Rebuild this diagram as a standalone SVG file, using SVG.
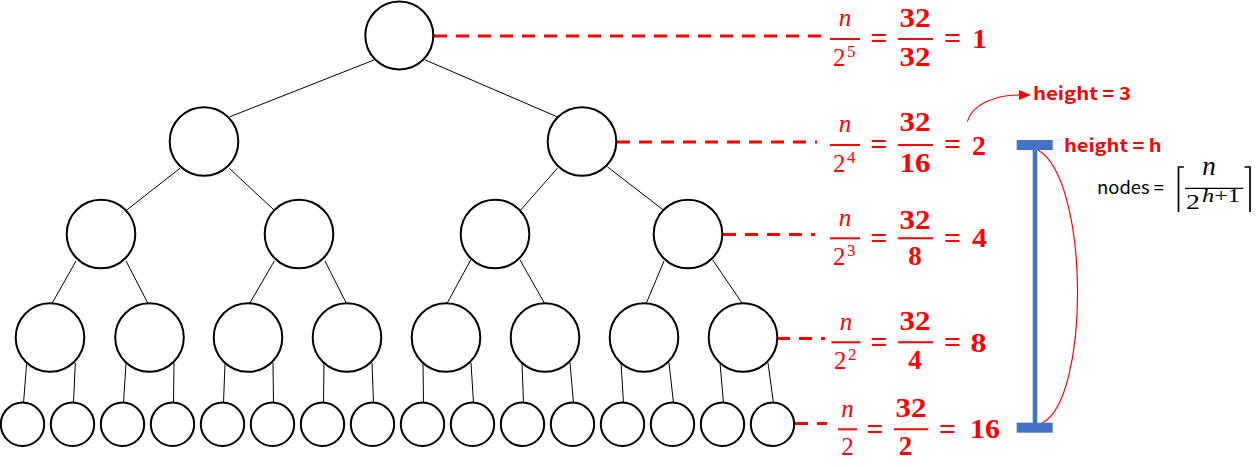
<svg xmlns="http://www.w3.org/2000/svg" width="1260" height="467" viewBox="0 0 1260 467">
<defs>
<style>
.nd{fill:#fff;stroke:#000;stroke-width:2}
.ed{stroke:#000;stroke-width:1;fill:none}
.dl{stroke:#f00;stroke-width:3;stroke-dasharray:13 9;fill:none}
.fb{stroke:#f00;stroke-width:2}
.sf{font-family:"Liberation Serif","DejaVu Serif",serif}
.ni{font-style:italic;font-size:25px;fill:#f00;text-anchor:middle}
.dn{font-size:25px;fill:#f00}
.sp{font-size:17px;fill:#f00}
.bd{font-weight:bold;font-size:27px;fill:#f00;text-anchor:middle}
.eq{font-weight:bold;font-size:30px;fill:#f00;text-anchor:middle}
.rs{font-weight:bold;font-size:27px;fill:#f00}
.hl{font-family:"Noto Sans CJK KR","Noto Sans",sans-serif;font-weight:bold;font-size:18px;fill:#f00}
.bl{fill:#4472C4}
.mt{fill:#000}
</style>
<marker id="ah" markerUnits="userSpaceOnUse" markerWidth="13" markerHeight="10" refX="1" refY="5" orient="auto">
<path d="M0,0 L12,5 L0,10 Z" fill="#f00"/>
</marker>
</defs>

<g id="connectors">
<line class="ed" x1="374" y1="60" x2="230" y2="116.7"/>
<line class="ed" x1="425.3" y1="60" x2="558.3" y2="117.3"/>
<line class="ed" x1="180" y1="168.3" x2="126.7" y2="210"/>
<line class="ed" x1="229.3" y1="168.3" x2="274" y2="210"/>
<line class="ed" x1="557.3" y1="168.3" x2="520.7" y2="210"/>
<line class="ed" x1="607.3" y1="166.7" x2="663.3" y2="210"/>
<line class="ed" x1="76" y1="261" x2="51.7" y2="304"/>
<line class="ed" x1="126" y1="261" x2="148.3" y2="304"/>
<line class="ed" x1="274.3" y1="261" x2="249.3" y2="304"/>
<line class="ed" x1="325" y1="261" x2="346.7" y2="304"/>
<line class="ed" x1="470.7" y1="260" x2="446.7" y2="304"/>
<line class="ed" x1="520" y1="260" x2="545" y2="304"/>
<line class="ed" x1="664" y1="261" x2="646" y2="304"/>
<line class="ed" x1="712.7" y1="260" x2="742.7" y2="304"/>
<line class="ed" x1="26.7" y1="363" x2="23.5" y2="403"/>
<line class="ed" x1="75.3" y1="363" x2="73.5" y2="403"/>
<line class="ed" x1="126" y1="363" x2="123.5" y2="403"/>
<line class="ed" x1="174" y1="363" x2="173.5" y2="403"/>
<line class="ed" x1="225" y1="363" x2="223.5" y2="403"/>
<line class="ed" x1="273" y1="363" x2="273.5" y2="403"/>
<line class="ed" x1="324" y1="363" x2="323.5" y2="403"/>
<line class="ed" x1="372" y1="363" x2="373.5" y2="403"/>
<line class="ed" x1="423" y1="363" x2="423.5" y2="403"/>
<line class="ed" x1="471" y1="363" x2="473.5" y2="403"/>
<line class="ed" x1="522" y1="363" x2="523.5" y2="403"/>
<line class="ed" x1="570" y1="363" x2="573.5" y2="403"/>
<line class="ed" x1="621" y1="363" x2="623.5" y2="403"/>
<line class="ed" x1="669" y1="363" x2="673.5" y2="403"/>
<line class="ed" x1="720" y1="363" x2="723.5" y2="403"/>
<line class="ed" x1="768" y1="363" x2="773.5" y2="403"/>
<line class="dl" x1="434" y1="36" x2="825" y2="36"/>
<line class="dl" x1="617" y1="142" x2="817" y2="142"/>
<line class="dl" x1="723" y1="234.5" x2="815" y2="234.5"/>
<line class="dl" x1="777" y1="338.5" x2="825" y2="338.5"/>
<line class="dl" x1="795" y1="423.5" x2="827" y2="423.5"/>
<path d="M967.3,121.7 C972,104 995,95 1020,95" fill="none" stroke="#f00" stroke-width="1.2" marker-end="url(#ah)"/>
<path d="M1038,150 C1090,180 1090,400 1042,423" fill="none" stroke="#f00" stroke-width="1.2"/>
</g>

<g id="n1"><circle class="nd" cx="399.3" cy="35.5" r="34"/></g>
<g id="n2"><circle class="nd" cx="204" cy="141.5" r="34.3"/></g>
<g id="n3"><circle class="nd" cx="582" cy="141.5" r="34.3"/></g>
<g id="n4"><circle class="nd" cx="101" cy="234" r="34.3"/></g>
<g id="n5"><circle class="nd" cx="299" cy="234" r="34.3"/></g>
<g id="n6"><circle class="nd" cx="495" cy="234" r="34.3"/></g>
<g id="n7"><circle class="nd" cx="688" cy="234" r="34.3"/></g>
<g id="n8"><circle class="nd" cx="50" cy="337.5" r="34.3"/></g>
<g id="n9"><circle class="nd" cx="149.5" cy="337.5" r="34.3"/></g>
<g id="n10"><circle class="nd" cx="248" cy="337.5" r="34.3"/></g>
<g id="n11"><circle class="nd" cx="347" cy="337.5" r="34.3"/></g>
<g id="n12"><circle class="nd" cx="446" cy="337.5" r="34.3"/></g>
<g id="n13"><circle class="nd" cx="545" cy="337.5" r="34.3"/></g>
<g id="n14"><circle class="nd" cx="644" cy="337.5" r="34.3"/></g>
<g id="n15"><circle class="nd" cx="743" cy="337.5" r="34.3"/></g>
<g id="n16"><circle class="nd" cx="22.5" cy="424.3" r="21.7"/></g>
<g id="n17"><circle class="nd" cx="72.5" cy="424.3" r="21.7"/></g>
<g id="n18"><circle class="nd" cx="122.5" cy="424.3" r="21.7"/></g>
<g id="n19"><circle class="nd" cx="172.5" cy="424.3" r="21.7"/></g>
<g id="n20"><circle class="nd" cx="222.5" cy="424.3" r="21.7"/></g>
<g id="n21"><circle class="nd" cx="272.5" cy="424.3" r="21.7"/></g>
<g id="n22"><circle class="nd" cx="322.5" cy="424.3" r="21.7"/></g>
<g id="n23"><circle class="nd" cx="372.5" cy="424.3" r="21.7"/></g>
<g id="n24"><circle class="nd" cx="422.5" cy="424.3" r="21.7"/></g>
<g id="n25"><circle class="nd" cx="472.5" cy="424.3" r="21.7"/></g>
<g id="n26"><circle class="nd" cx="522.5" cy="424.3" r="21.7"/></g>
<g id="n27"><circle class="nd" cx="572.5" cy="424.3" r="21.7"/></g>
<g id="n28"><circle class="nd" cx="622.5" cy="424.3" r="21.7"/></g>
<g id="n29"><circle class="nd" cx="672.5" cy="424.3" r="21.7"/></g>
<g id="n30"><circle class="nd" cx="722.5" cy="424.3" r="21.7"/></g>
<g id="n31"><circle class="nd" cx="772.5" cy="424.3" r="21.7"/></g>

<g id="f0" class="sf">
<text class="ni" x="845" y="26">n</text>
<line class="fb" x1="830" y1="39" x2="860" y2="39"/>
<text class="dn" x="833" y="66">2</text><text class="sp" x="847" y="57">5</text>
<text class="eq" x="879" y="48">=</text>
<text class="bd" x="915" y="27" textLength="31" lengthAdjust="spacingAndGlyphs">32</text>
<line class="fb" x1="898" y1="39" x2="933" y2="39"/>
<text class="bd" x="915" y="66" textLength="31" lengthAdjust="spacingAndGlyphs">32</text>
<text class="eq" x="952.5" y="48">=</text>
<text class="rs" x="972" y="48" textLength="15" lengthAdjust="spacingAndGlyphs">1</text>
</g>
<g id="f1" class="sf">
<text class="ni" x="845" y="132">n</text>
<line class="fb" x1="830" y1="145" x2="860" y2="145"/>
<text class="dn" x="833" y="172">2</text><text class="sp" x="847" y="163">4</text>
<text class="eq" x="879" y="154">=</text>
<text class="bd" x="915" y="131" textLength="31" lengthAdjust="spacingAndGlyphs">32</text>
<line class="fb" x1="898" y1="145" x2="933" y2="145"/>
<text class="bd" x="915" y="172" textLength="31" lengthAdjust="spacingAndGlyphs">16</text>
<text class="eq" x="952.5" y="154">=</text>
<text class="rs" x="972" y="155" textLength="14" lengthAdjust="spacingAndGlyphs">2</text>
</g>
<g id="f2" class="sf">
<text class="ni" x="845" y="226">n</text>
<line class="fb" x1="830" y1="238.3" x2="860" y2="238.3"/>
<text class="dn" x="833" y="265">2</text><text class="sp" x="847" y="256">3</text>
<text class="eq" x="879" y="247.5">=</text>
<text class="bd" x="915" y="229" textLength="31" lengthAdjust="spacingAndGlyphs">32</text>
<line class="fb" x1="898" y1="238.3" x2="933" y2="238.3"/>
<text class="bd" x="915" y="265">8</text>
<text class="eq" x="952.5" y="247.5">=</text>
<text class="rs" x="972" y="246.5" textLength="15" lengthAdjust="spacingAndGlyphs">4</text>
</g>
<g id="f3" class="sf">
<text class="ni" x="846" y="330">n</text>
<line class="fb" x1="831.5" y1="342.3" x2="860.5" y2="342.3"/>
<text class="dn" x="834" y="369">2</text><text class="sp" x="848" y="360">2</text>
<text class="eq" x="879" y="351.5">=</text>
<text class="bd" x="915" y="330" textLength="31" lengthAdjust="spacingAndGlyphs">32</text>
<line class="fb" x1="898" y1="342.3" x2="933" y2="342.3"/>
<text class="bd" x="915" y="369">4</text>
<text class="eq" x="952.5" y="351.5">=</text>
<text class="rs" x="970.5" y="351.5" textLength="16" lengthAdjust="spacingAndGlyphs">8</text>
</g>
<g id="f4" class="sf">
<text class="ni" x="847.5" y="417">n</text>
<line class="fb" x1="838" y1="429.3" x2="857" y2="429.3"/>
<text class="dn" x="847.5" y="455" text-anchor="middle">2</text>
<text class="eq" x="875" y="438.5">=</text>
<text class="bd" x="911" y="416.5" textLength="31" lengthAdjust="spacingAndGlyphs">32</text>
<line class="fb" x1="894" y1="429.3" x2="928.3" y2="429.3"/>
<text class="bd" x="905.5" y="455">2</text>
<text class="eq" x="947.5" y="438.5">=</text>
<text class="rs" x="970" y="438.3" textLength="30" lengthAdjust="spacingAndGlyphs">16</text>
</g>

<g id="height3"><text class="hl" x="1033" y="100" textLength="98" lengthAdjust="spacingAndGlyphs">height = 3</text></g>
<g id="heighth"><text class="hl" x="1064" y="151.7" textLength="97.7" lengthAdjust="spacingAndGlyphs">height = h</text></g>

<g id="ibeam">
<rect class="bl" x="1016.7" y="140" width="36" height="10"/>
<rect class="bl" x="1032.7" y="148" width="4.6" height="277"/>
<rect class="bl" x="1016.7" y="422.7" width="36" height="10"/>
</g>

<g id="formula">
<text x="1097" y="194" font-family="'Noto Sans CJK KR','Noto Sans',sans-serif" font-size="17" fill="#000" textLength="67" lengthAdjust="spacingAndGlyphs">nodes =</text>
<path d="M1184,167 H1178.5 V212" fill="none" stroke="#000" stroke-width="1.7"/>
<path d="M1244.5,167 H1250 V212" fill="none" stroke="#000" stroke-width="1.7"/>
<g class="sf">
<text class="mt" x="1209" y="175" font-size="27" font-style="italic" text-anchor="middle">n</text>
<line x1="1185" y1="188.3" x2="1243.3" y2="188.3" stroke="#000" stroke-width="1.3"/>
<text class="mt" x="1186" y="209.3" font-size="22" textLength="14" lengthAdjust="spacingAndGlyphs">2</text>
<text class="mt" x="1202" y="201.5" font-size="18" textLength="38" lengthAdjust="spacingAndGlyphs"><tspan font-style="italic">h</tspan>+1</text>
</g>
</g>
</svg>
